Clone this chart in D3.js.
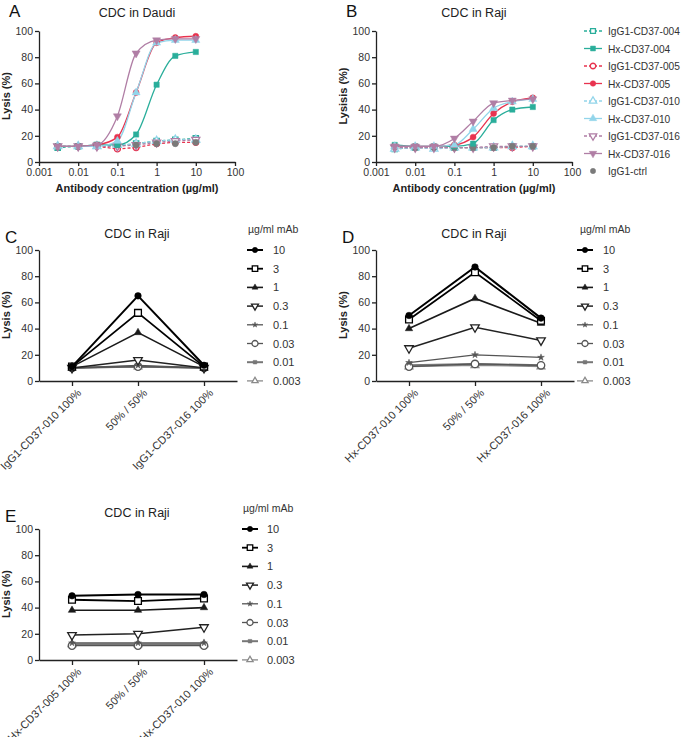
<!DOCTYPE html>
<html><head><meta charset="utf-8">
<script src="https://cdn.jsdelivr.net/npm/d3@7"></script>
<style>
body{margin:0;background:#fff;}
svg{font-family:"Liberation Sans",Arial,sans-serif;}
</style></head>
<body><svg id="c" width="685" height="737"></svg>
<script>
// ---------- DATA ----------
const conc = [0.003, 0.01, 0.03, 0.1, 0.3, 1, 3, 10];
const xTickValues = [0.001, 0.01, 0.1, 1, 10, 100];
const xTickLabels = ["0.001", "0.01", "0.1", "1", "10", "100"];
const yTicks = [0, 20, 40, 60, 80, 100];

const seriesNames = ["IgG1-CD37-004","Hx-CD37-004","IgG1-CD37-005","Hx-CD37-005","IgG1-CD37-010","Hx-CD37-010","IgG1-CD37-016","Hx-CD37-016","IgG1-ctrl"];

const daudi_IgG1_004 = [11,12,13,12,14,16,17,18];
const daudi_Hx_004   = [12,12,13,13,21,59,81,84];
const daudi_IgG1_005 = [12,12,12,10,11,14,15,15];
const daudi_Hx_005   = [12,12,13,19,53,91,95,96];
const daudi_IgG1_010 = [12,12,12,13,14,16,17,17];
const daudi_Hx_010   = [12,12,12,16,53,91,93,93];
const daudi_IgG1_016 = [12,12,12,12,13,15,16,17];
const daudi_Hx_016   = [12,12,13,35,83,93,94,94];
const daudi_ctrl     = [12,12,13,13,13,14,14,15];

const raji_IgG1_004 = [10,11,11,11,11,11,12,12];
const raji_Hx_004   = [13,12,12,12,14,32,40,42];
const raji_IgG1_005 = [11,11,11,11,11,11,11,12];
const raji_Hx_005   = [12,12,12,13,19,37,46,49];
const raji_IgG1_010 = [10,11,10,11,11,11,12,12];
const raji_Hx_010   = [12,12,12,13,25,41,46,48];
const raji_IgG1_016 = [11,11,11,11,11,12,12,12];
const raji_Hx_016   = [12,12,12,18,31,45,47,48];
const raji_ctrl     = [12,11,11,11,11,11,12,12];

const doseLabels = ["10","3","1","0.3","0.1","0.03","0.01","0.003"];

const catsC = ["IgG1-CD37-010 100%","50% / 50%","IgG1-CD37-016 100%"];
const C_10 = [11,65,12], C_3 = [11,52,11], C_1 = [11,37,11], C_03 = [10,16,10],
      C_01 = [10,12,10], C_003 = [10,11,10], C_001 = [10,11,10], C_0003 = [10,11,10];

const catsD = ["Hx-CD37-010 100%","50% / 50%","Hx-CD37-016 100%"];
const D_10 = [50,87,48], D_3 = [47,83,46], D_1 = [40,63,44], D_03 = [25,41,31],
      D_01 = [14,20,18], D_003 = [11,13,12], D_001 = [12,13,12], D_0003 = [11,12,11];

const catsE = ["Hx-CD37-005 100%","50% / 50%","Hx-CD37-010 100%"];
const E_10 = [49,50,50], E_3 = [46,45,47], E_1 = [38,38,40], E_03 = [19,20,25],
      E_01 = [13,13,13], E_003 = [11,11,11], E_001 = [12,12,12], E_0003 = [12,12,12];

// ---------- STYLES ----------
const TEAL="#2aae9b", RED="#e8334f", LBLUE="#92d5ea", MAUVE="#b07ea5", GRAY="#7a7a7a";
const seriesStyle = [
  {c:TEAL, sym:d3.symbolSquare, open:true, dash:true},
  {c:TEAL, sym:d3.symbolSquare, open:false, dash:false},
  {c:RED, sym:d3.symbolCircle, open:true, dash:true},
  {c:RED, sym:d3.symbolCircle, open:false, dash:false},
  {c:LBLUE, sym:d3.symbolTriangle, open:true, dash:true},
  {c:LBLUE, sym:d3.symbolTriangle, open:false, dash:false},
  {c:MAUVE, sym:"tdown", open:true, dash:true},
  {c:MAUVE, sym:"tdown", open:false, dash:false},
  {c:GRAY, sym:d3.symbolCircle, open:false, dash:true, noLine:true}
];
const doseStyle = [
  {c:"#000", sym:d3.symbolCircle, open:false, w:2.0, s:34},
  {c:"#000", sym:d3.symbolSquare, open:true, w:1.8, s:46},
  {c:"#1a1a1a", sym:d3.symbolTriangle, open:false, w:1.6, s:24},
  {c:"#222", sym:"tdown", open:true, w:1.5, s:32},
  {c:"#555", sym:d3.symbolStar, open:false, w:1.3, s:14},
  {c:"#555", sym:d3.symbolCircle, open:true, w:1.3, s:44},
  {c:"#777", sym:d3.symbolSquare, open:false, w:2.0, s:20},
  {c:"#8a8a8a", sym:d3.symbolTriangle, open:true, w:1.3, s:26}
];

const svg = d3.select("#c");
svg.append("rect").attr("width",685).attr("height",737).attr("fill","#fff");

function symPath(sym, size){
  if(sym==="tdown") return d3.symbol().type(d3.symbolTriangle).size(size)();
  return d3.symbol().type(sym).size(size)();
}
function drawMarker(g, x, y, st, size){
  const p = g.append("path").attr("d", symPath(st.sym, size))
    .attr("transform", `translate(${x},${y})` + (st.sym==="tdown"?" rotate(180)":""));
  if(st.open) p.attr("fill","#fff").attr("stroke",st.c).attr("stroke-width",1.3);
  else p.attr("fill",st.c).attr("stroke",st.c).attr("stroke-width",0.5);
}
function styleAxis(g){
  g.selectAll(".domain").attr("stroke","#222").attr("stroke-width",1.3);
  g.selectAll(".tick line").attr("stroke","#222").attr("stroke-width",1.3);
  g.selectAll(".tick text").attr("fill","#333").style("font-size","10.5px");
}
function text(x,y,t,opt={}){
  const el = svg.append("text").attr("x",x).attr("y",y).text(t)
    .attr("text-anchor",opt.anchor||"middle").attr("fill",opt.fill||"#222")
    .style("font-size",(opt.size||11)+"px");
  if(opt.bold) el.style("font-weight","bold");
  if(opt.rot) el.attr("transform",`rotate(${opt.rot},${x},${y})`);
  return el;
}

// ---------- DOSE-RESPONSE PANELS ----------
function drawDose(x0, letter, title, ylabel, dataArr){
  const x = d3.scaleLog().domain([0.001,100]).range([x0, x0+196]);
  const y = d3.scaleLinear().domain([0,100]).range([162,31]);
  const gy = svg.append("g").attr("transform",`translate(${x0},0)`)
    .call(d3.axisLeft(y).tickValues(yTicks).tickSize(4).tickSizeOuter(0).tickPadding(2));
  styleAxis(gy);
  const gx = svg.append("g").attr("transform",`translate(0,162)`)
    .call(d3.axisBottom(x).tickValues(xTickValues).tickFormat((d,i)=>xTickLabels[i]).tickSize(4).tickSizeOuter(0).tickPadding(3));
  styleAxis(gx);
  text(x0-35+5, 12+5, letter, {size:17, anchor:"start", fill:"#111"});
  text(x0+98, 17, title, {size:12.5});
  text(x0+98, 192, "Antibody concentration (µg/ml)", {size:11, bold:true});
  text(x0-29, 96, ylabel, {size:11, bold:true, rot:-90});
  const g = svg.append("g");
  const order = [0,2,4,6,8,1,3,5,7];
  order.forEach(i=>{
    const st = seriesStyle[i];
    const pts = conc.map((c,j)=>[x(c), y(dataArr[i][j])]);
    if(!st.noLine){
      const line = d3.line().curve(st.dash? d3.curveLinear : d3.curveMonotoneX);
      g.append("path").attr("d", line(pts)).attr("fill","none")
        .attr("stroke",st.c).attr("stroke-width",1.3)
        .attr("stroke-dasharray", st.dash? "3,2" : null);
    }
  });
  order.forEach(i=>{
    const st = seriesStyle[i];
    conc.forEach((c,j)=> drawMarker(g, x(c), y(dataArr[i][j]), st, i===8?30:28));
  });
}
drawDose(39, "A", "CDC in Daudi", "Lysis (%)",
  [daudi_IgG1_004,daudi_Hx_004,daudi_IgG1_005,daudi_Hx_005,daudi_IgG1_010,daudi_Hx_010,daudi_IgG1_016,daudi_Hx_016,daudi_ctrl]);
drawDose(376, "B", "CDC in Raji", "Lysisis (%)",
  [raji_IgG1_004,raji_Hx_004,raji_IgG1_005,raji_Hx_005,raji_IgG1_010,raji_Hx_010,raji_IgG1_016,raji_Hx_016,raji_ctrl]);

// top-right legend
seriesNames.forEach((n,i)=>{
  const st = seriesStyle[i];
  const yy = 31 + i*17.5;
  const g = svg.append("g");
  if(!st.noLine){
    g.append("line").attr("x1",584).attr("x2",602).attr("y1",yy).attr("y2",yy)
      .attr("stroke",st.c).attr("stroke-width",1.3).attr("stroke-dasharray",st.dash?"3,2":null);
  }
  drawMarker(g, 593, yy, st, i===8?22:24);
  text(608, yy+4, n, {size:10.2, anchor:"start", fill:"#333"});
});

// ---------- MIX PANELS ----------
function drawMix(x0, yTop, letter, cats, sets, legX, legMarkX, legTextX){
  const y0 = yTop + 131;
  const x = d3.scalePoint().domain(cats).range([x0, x0+198]).padding(0.5);
  const y = d3.scaleLinear().domain([0,100]).range([y0, yTop]);
  const gy = svg.append("g").attr("transform",`translate(${x0},0)`)
    .call(d3.axisLeft(y).tickValues(yTicks).tickSize(4).tickSizeOuter(0).tickPadding(2));
  styleAxis(gy);
  const gx = svg.append("g").attr("transform",`translate(0,${y0})`)
    .call(d3.axisBottom(x).tickSize(5).tickSizeOuter(0).tickPadding(4));
  styleAxis(gx);
  gx.selectAll(".tick text").attr("text-anchor","end")
    .attr("transform","rotate(-45)").attr("dx","-0.2em").attr("dy","0.6em")
    .style("font-size","11px");
  text(x0-34, yTop-7, letter, {size:17, anchor:"start", fill:"#111"});
  text(x0+98, yTop-12, "CDC in Raji", {size:12.5});
  text(x0-29, yTop+65, "Lysis (%)", {size:11, bold:true, rot:-90});
  const g = svg.append("g");
  for(let i=sets.length-1;i>=0;i--){
    const st = doseStyle[i];
    const pts = cats.map((c,j)=>[x(c), y(sets[i][j])]);
    g.append("path").attr("d", d3.line()(pts)).attr("fill","none")
      .attr("stroke",st.c).attr("stroke-width",st.w);
    pts.forEach(p=>drawMarker(g, p[0], p[1], st, st.s));
  }
  text(legX, yTop-17, "µg/ml mAb", {size:10.5, anchor:"start", fill:"#333"});
  doseLabels.forEach((d,i)=>{
    const st = doseStyle[i];
    const yy = yTop + i*18.7;
    svg.append("line").attr("x1",legMarkX-8).attr("x2",legMarkX+8).attr("y1",yy).attr("y2",yy)
      .attr("stroke",st.c).attr("stroke-width",st.w);
    drawMarker(svg, legMarkX, yy, st, st.s*0.65);
    text(legTextX, yy+4, d, {size:11, anchor:"start", fill:"#333"});
  });
}
drawMix(39, 250, "C", catsC, [C_10,C_3,C_1,C_03,C_01,C_003,C_001,C_0003], 248, 255, 273);
drawMix(376, 250, "D", catsD, [D_10,D_3,D_1,D_03,D_01,D_003,D_001,D_0003], 580, 585, 603);
drawMix(39, 529, "E", catsE, [E_10,E_3,E_1,E_03,E_01,E_003,E_001,E_0003], 243, 250, 267);
</script></body></html>
